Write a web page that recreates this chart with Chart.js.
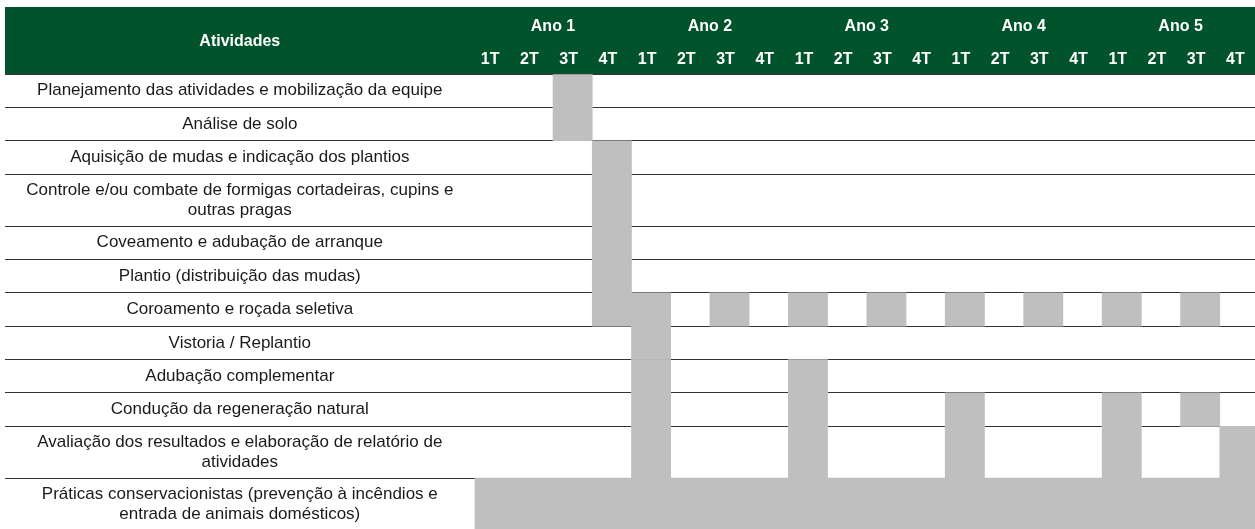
<!DOCTYPE html>
<html><head><meta charset="utf-8">
<script src="https://cdn.jsdelivr.net/npm/chart.js@4.4.1/dist/chart.umd.min.js"></script>
<style>html,body{margin:0;padding:0;background:#fff;overflow:hidden}canvas{display:block}</style>
</head><body>
<canvas id="c" width="1259" height="530"></canvas>
<script>
// ---------- data ----------
const headerTitle = 'Atividades';
const activities = [
  ['Planejamento das atividades e mobilização da equipe'],
  ['Análise de solo'],
  ['Aquisição de mudas e indicação dos plantios'],
  ['Controle e/ou combate de formigas cortadeiras, cupins e', 'outras pragas'],
  ['Coveamento e adubação de arranque'],
  ['Plantio (distribuição das mudas)'],
  ['Coroamento e roçada seletiva'],
  ['Vistoria / Replantio'],
  ['Adubação complementar'],
  ['Condução da regeneração natural'],
  ['Avaliação dos resultados e elaboração de relatório de', 'atividades'],
  ['Práticas conservacionistas (prevenção à incêndios e', 'entrada de animais domésticos)']
];
const years = ['Ano 1', 'Ano 2', 'Ano 3', 'Ano 4', 'Ano 5'];
const quarterLabels = ['1T','2T','3T','4T','1T','2T','3T','4T','1T','2T','3T','4T','1T','2T','3T','4T','1T','2T','3T','4T'];
// quarter indices (0 = 1T Ano 1 ... 19 = 4T Ano 5) in which each activity happens
const schedule = [
  [2],
  [2],
  [3],
  [3],
  [3],
  [3],
  [3, 4, 6, 8, 10, 12, 14, 16, 18],
  [4],
  [4, 8],
  [4, 8, 12, 16, 18],
  [4, 8, 12, 16, 19],
  [0, 1, 2, 3, 4, 5, 6, 7, 8, 9, 10, 11, 12, 13, 14, 15, 16, 17, 18, 19]
];

// ---------- layout / style ----------
const FAMILY = "'Liberation Sans', Arial, Helvetica, sans-serif";
const GREEN = '#01532b';
const CELL = '#bfbfbf';
const LINE = '#333333';
const PAD_LEFT = 5, PAD_TOP = 7;
const LABEL_COL_W = 469.6;
const YEAR_H = 34, QUARTER_H = 33;
const ROW_PAD = 14.9, LINE_H = 18.45;

const rowHeights = activities.map(a => ROW_PAD + LINE_H * a.length);
const rowTops = [];
let acc = 0;
rowHeights.forEach(h => { rowTops.push(acc); acc += h; });
const total = acc;
const rowCenters = rowTops.map((t, i) => t + rowHeights[i] / 2);
const rowBounds = [...rowTops, total];

const mctx = document.createElement('canvas').getContext('2d');
mctx.font = `17px ${FAMILY}`;
const widest = Math.max(...activities.flat().map(s => mctx.measureText(s).width));
const labelPadding = LABEL_COL_W / 2 - widest / 2;

const datasets = activities.map((name, i) => ({
  label: name.join(' '),
  data: quarterLabels.map((_, q) => schedule[i].includes(q) ? [rowTops[i], rowTops[i] + rowHeights[i]] : null),
  backgroundColor: CELL,
  borderWidth: 0,
  grouped: false,
  categoryPercentage: 1,
  barPercentage: 1,
  xAxisID: 'x',
  yAxisID: 'yb'
}));

function noPad(s) { s.paddingTop = 0; s.paddingBottom = 0; s.paddingLeft = 0; s.paddingRight = 0; }

const headerPlugin = {
  id: 'header',
  beforeDraw(chart) {
    const { ctx } = chart;
    const yl = chart.scales.yl, xy = chart.scales.xYear, xq = chart.scales.x;
    ctx.save();
    ctx.fillStyle = GREEN;
    ctx.fillRect(yl.left, xy.top, chart.width - yl.left, xq.bottom - xy.top);
    ctx.fillStyle = '#fff';
    ctx.font = `bold 16px ${FAMILY}`;
    ctx.textAlign = 'center';
    ctx.textBaseline = 'middle';
    ctx.fillText(headerTitle, (yl.left + yl.right) / 2, (xy.top + xq.bottom) / 2 + 1);
    ctx.restore();
  }
};

const headFont = { family: FAMILY, size: 16, weight: 'bold' };

new Chart(document.getElementById('c'), {
  type: 'bar',
  data: { labels: quarterLabels, datasets },
  options: {
    responsive: false,
    animation: false,
    events: [],
    layout: { padding: { left: PAD_LEFT, top: PAD_TOP, right: 0, bottom: 0 } },
    plugins: { legend: { display: false }, tooltip: { enabled: false } },
    scales: {
      x: {
        type: 'category', axis: 'x', position: 'top', weight: 0, offset: true,
        grid: { display: false, drawTicks: false }, border: { display: false },
        ticks: { color: '#fff', font: headFont, padding: 5, autoSkip: false, maxRotation: 0, minRotation: 0, labelOffset: -4 },
        afterFit(s) { s.height = QUARTER_H; noPad(s); }
      },
      xYear: {
        type: 'linear', axis: 'x', position: 'top', weight: 10, min: 0, max: 20, offset: false,
        grid: { display: false, drawTicks: false }, border: { display: false },
        ticks: { color: '#fff', font: headFont, padding: 5, autoSkip: false, maxRotation: 0, minRotation: 0,
                 callback: (v, i) => years[i] },
        afterBuildTicks(s) { s.ticks = years.map((_, i) => ({ value: i * 4 + 2 })); },
        afterFit(s) { s.height = YEAR_H; noPad(s); }
      },
      yb: {
        type: 'linear', axis: 'y', position: 'left', weight: 0, min: 0, max: total, reverse: true,
        grid: { color: LINE, lineWidth: 1, drawTicks: true, tickLength: LABEL_COL_W, tickColor: LINE, tickWidth: 1 },
        border: { display: false },
        ticks: { display: false, autoSkip: false },
        afterBuildTicks(s) { s.ticks = rowBounds.map(v => ({ value: v })); },
        afterFit(s) { s.width = 0; noPad(s); }
      },
      yl: {
        type: 'linear', axis: 'y', position: 'left', weight: 10, min: 0, max: total, reverse: true,
        grid: { display: false, drawTicks: false }, border: { display: false },
        ticks: { color: '#1a1a1a', font: { family: FAMILY, size: 17, lineHeight: 1.2 }, padding: labelPadding,
                 crossAlign: 'center', autoSkip: false, callback: (v, i) => activities[i] },
        afterBuildTicks(s) { s.ticks = rowCenters.map(v => ({ value: v })); },
        afterFit(s) { s.width = LABEL_COL_W; noPad(s); }
      }
    }
  },
  plugins: [headerPlugin]
});
</script>
</body></html>
